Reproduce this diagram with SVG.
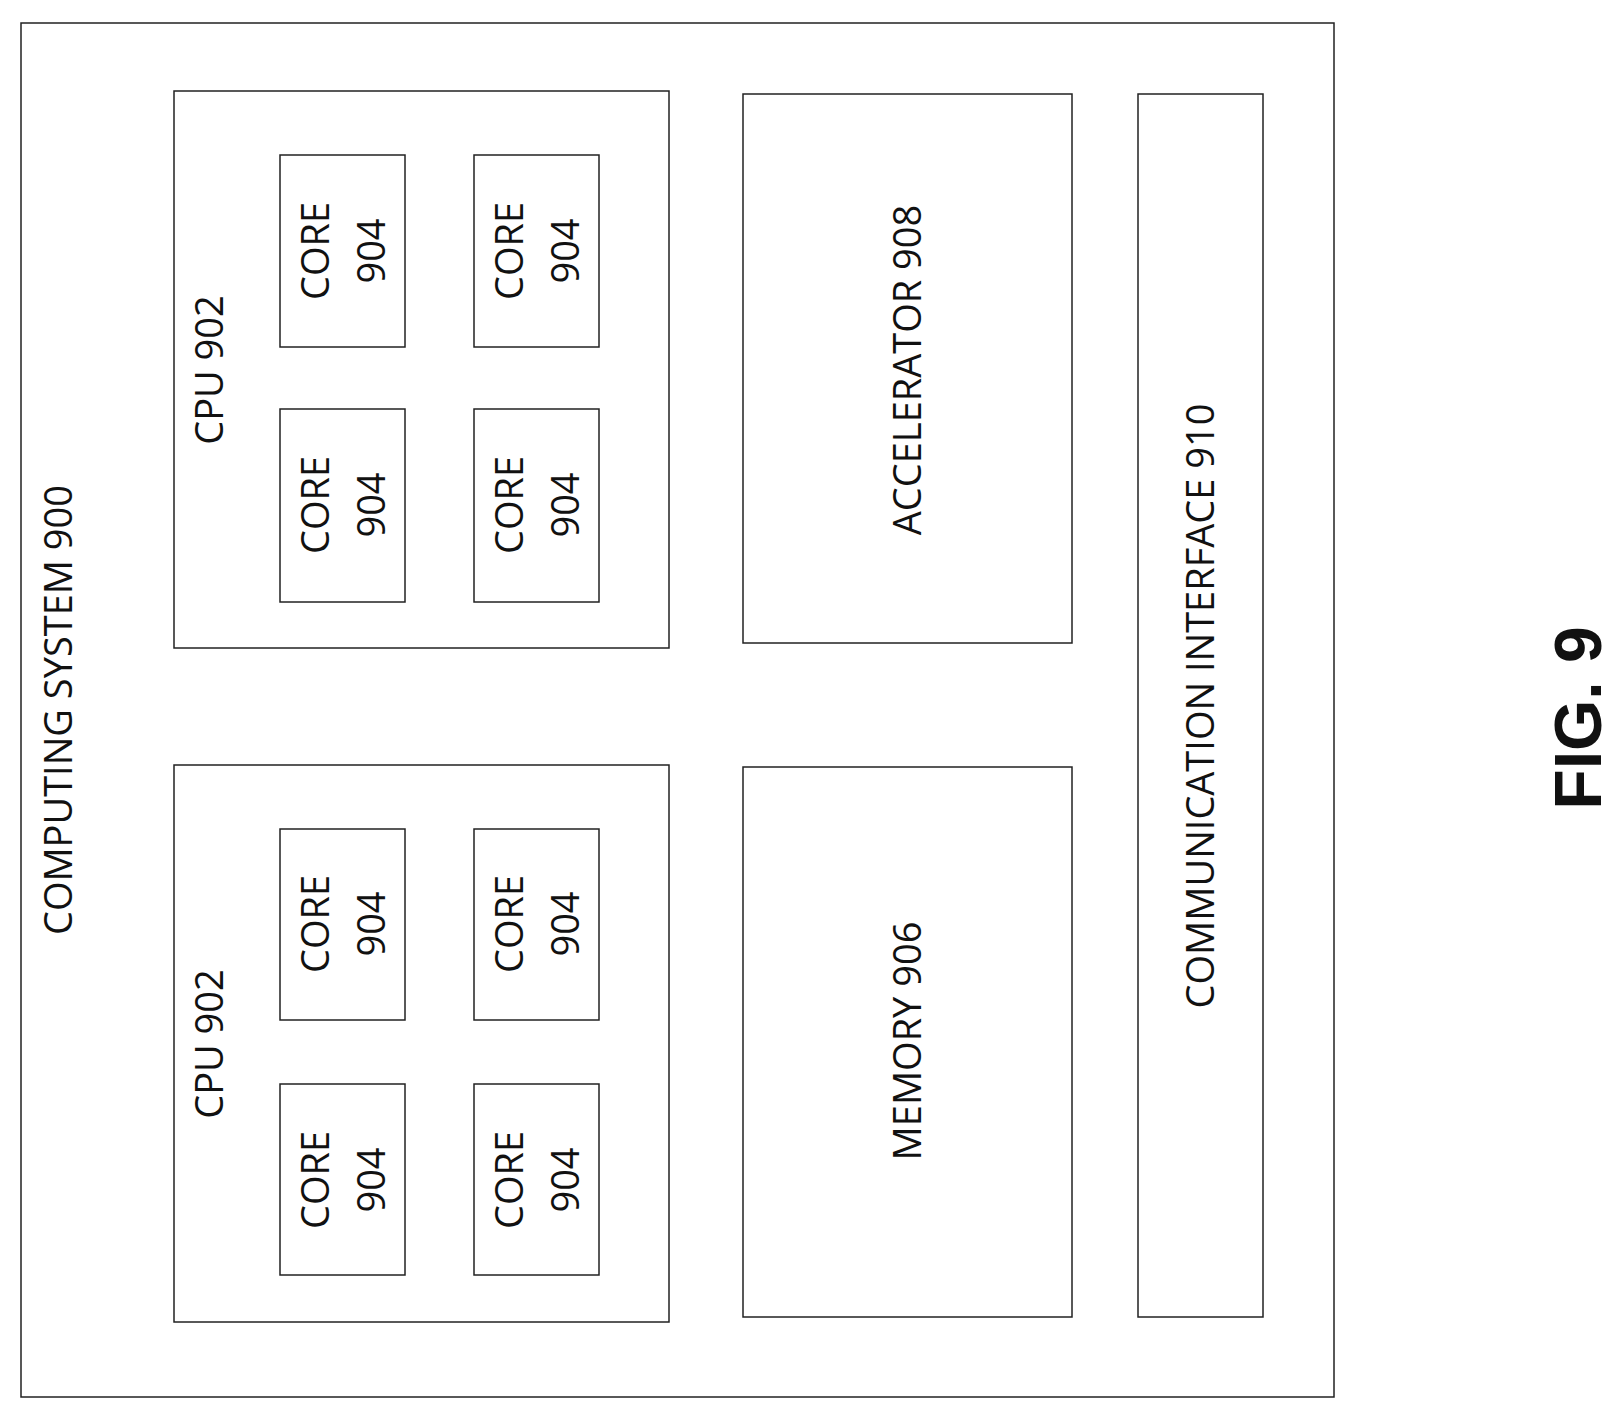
<svg xmlns="http://www.w3.org/2000/svg" width="1624" height="1412" viewBox="0 0 1624 1412">
<style>
rect{fill:#fff;stroke:#222;stroke-width:1.5}
text{font-family:"Open Sans","DejaVu Sans",sans-serif;font-size:38px;fill:#111;text-anchor:middle;dominant-baseline:central}
.fig{font-family:"Liberation Sans",Arial,sans-serif;font-weight:bold;font-size:66px}
</style>
<g id="system"><rect x="21" y="23" width="1313" height="1374"/><text transform="translate(57,710) rotate(-90)">COMPUTING SYSTEM 900</text></g>
<g id="cpu1"><rect x="174" y="91" width="495" height="557"/><text transform="translate(208,370) rotate(-90)">CPU 902</text></g>
<g id="cpu2"><rect x="174" y="765" width="495" height="557"/><text transform="translate(208,1044) rotate(-90)">CPU 902</text></g>
<g id="core1"><rect x="280" y="155" width="125" height="192"/><text transform="translate(342,251) rotate(-90)"><tspan x="0" dy="-28">CORE</tspan><tspan x="0" dy="56">904</tspan></text></g>
<g id="core2"><rect x="474" y="155" width="125" height="192"/><text transform="translate(536,251) rotate(-90)"><tspan x="0" dy="-28">CORE</tspan><tspan x="0" dy="56">904</tspan></text></g>
<g id="core3"><rect x="280" y="409" width="125" height="193"/><text transform="translate(342,505) rotate(-90)"><tspan x="0" dy="-28">CORE</tspan><tspan x="0" dy="56">904</tspan></text></g>
<g id="core4"><rect x="474" y="409" width="125" height="193"/><text transform="translate(536,505) rotate(-90)"><tspan x="0" dy="-28">CORE</tspan><tspan x="0" dy="56">904</tspan></text></g>
<g id="core5"><rect x="280" y="829" width="125" height="191"/><text transform="translate(342,924) rotate(-90)"><tspan x="0" dy="-28">CORE</tspan><tspan x="0" dy="56">904</tspan></text></g>
<g id="core6"><rect x="474" y="829" width="125" height="191"/><text transform="translate(536,924) rotate(-90)"><tspan x="0" dy="-28">CORE</tspan><tspan x="0" dy="56">904</tspan></text></g>
<g id="core7"><rect x="280" y="1084" width="125" height="191"/><text transform="translate(342,1180) rotate(-90)"><tspan x="0" dy="-28">CORE</tspan><tspan x="0" dy="56">904</tspan></text></g>
<g id="core8"><rect x="474" y="1084" width="125" height="191"/><text transform="translate(536,1180) rotate(-90)"><tspan x="0" dy="-28">CORE</tspan><tspan x="0" dy="56">904</tspan></text></g>
<g id="accel"><rect x="743" y="94" width="329" height="549"/><text transform="translate(906,370) rotate(-90)">ACCELERATOR 908</text></g>
<g id="memory"><rect x="743" y="767" width="329" height="550"/><text transform="translate(906,1041) rotate(-90)">MEMORY 906</text></g>
<g id="comm"><rect x="1138" y="94" width="125" height="1223"/><text transform="translate(1199,706) rotate(-90)">COMMUNICATION INTERFACE 910</text></g>
<g id="connectors"></g>
<text class="fig" transform="translate(1578,718) rotate(-90)">FIG. 9</text>
</svg>
